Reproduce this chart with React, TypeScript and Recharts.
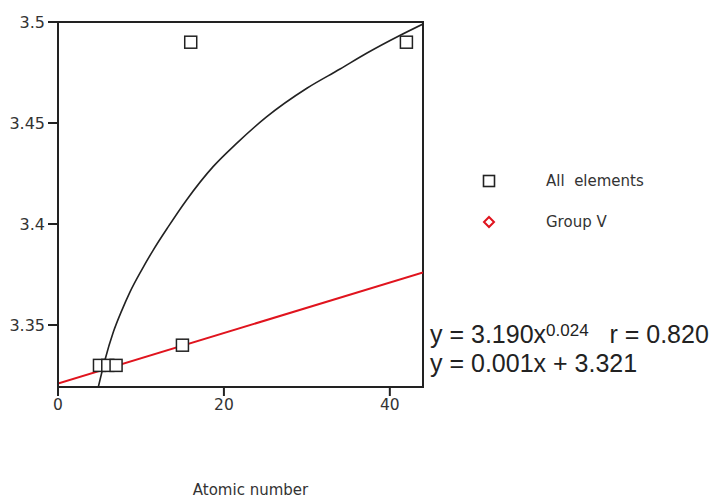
import React from "react";
import {
  ComposedChart,
  Line,
  Scatter,
  XAxis,
  YAxis,
  ReferenceArea,
} from "recharts";

// values
const X_TICKS = [0, 20, 40];
const Y_TICKS = [3.35, 3.4, 3.45, 3.5];
const Y_MIN = 3.3193;
const Y_MAX = 3.5;
const X_MAX = 44;

const allElementsX = [5, 6, 7, 15, 16, 42];
const allElementsY = [3.33, 3.33, 3.33, 3.34, 3.49, 3.49];

const groupVX = [7, 15];
const groupVY = [3.33, 3.34];

// power fit curve (black)
const powerFitX = [4.86, 5.66, 6.67, 7.67, 8.67, 10.08, 11.48, 13.3, 15.5, 18.7, 21.5, 25.1, 30.0, 34.0, 37.2, 41.2, 44];
const powerFitY = [3.3193, 3.3327, 3.3465, 3.357, 3.3663, 3.3772, 3.3871, 3.3987, 3.4119, 3.4284, 3.4398, 3.4529, 3.4672, 3.4767, 3.4845, 3.4933, 3.499];

// linear fit (red)
const linearFitX = [0, 44];
const linearFitY = [3.321, 3.376];

const zip = (xs: number[], ys: number[]) => xs.map((x, i) => ({ x, y: ys[i] }));

const allElements = zip(allElementsX, allElementsY);
const groupV = zip(groupVX, groupVY);
const powerFit = zip(powerFitX, powerFitY);
const linearFit = zip(linearFitX, linearFitY);

const INK = "#222";
const TEXT = "#333";
const RED = "#e0141e";

const Square = (props: any) => {
  const { cx, cy } = props;
  return <rect x={cx - 6} y={cy - 6} width={12} height={12} fill="#fff" stroke={INK} strokeWidth={1.5} />;
};

const Diamond = (props: any) => {
  const { cx, cy } = props;
  return (
    <polygon
      points={`${cx},${cy - 5} ${cx + 5},${cy} ${cx},${cy + 5} ${cx - 5},${cy}`}
      fill="#fff"
      stroke={RED}
      strokeWidth={2}
    />
  );
};

export default function App() {
  return (
    <div
      style={{
        position: "absolute",
        left: 0,
        top: 0,
        width: 724,
        height: 499,
        background: "#fff",
        fontFamily: "'DejaVu Sans', sans-serif",
      }}
    >
      <ComposedChart
        width={724}
        height={499}
        margin={{ top: 22, right: 301, bottom: 0, left: 0 }}
      >
        <XAxis
          type="number"
          dataKey="x"
          domain={[0, X_MAX]}
          ticks={X_TICKS}
          allowDataOverflow
          height={112}
          tickSize={9}
          tickMargin={3}
          axisLine={{ stroke: INK, strokeWidth: 2 }}
          tickLine={{ stroke: INK, strokeWidth: 2 }}
          tick={{ fill: TEXT, fontSize: 15.5 }}
          label={{
            value: "Atomic number",
            position: "insideBottom",
            offset: 4,
            dx: 10,
            fill: TEXT,
            fontSize: 15,
          }}
        />
        <YAxis
          type="number"
          dataKey="y"
          domain={[Y_MIN, Y_MAX]}
          ticks={Y_TICKS}
          allowDataOverflow
          width={58}
          tickSize={10}
          tickMargin={3}
          axisLine={{ stroke: INK, strokeWidth: 2 }}
          tickLine={{ stroke: INK, strokeWidth: 2 }}
          tick={{ fill: TEXT, fontSize: 16 }}
          tickFormatter={(v: number) => String(v)}
        />
        <ReferenceArea
          x1={0}
          x2={X_MAX}
          y1={Y_MIN}
          y2={Y_MAX}
          fill="none"
          stroke={INK}
          strokeWidth={2}
          ifOverflow="visible"
        />
        <Line
          data={linearFit}
          dataKey="y"
          type="linear"
          stroke={RED}
          strokeWidth={2}
          dot={false}
          isAnimationActive={false}
        />
        <Line
          data={powerFit}
          dataKey="y"
          type="monotone"
          stroke={INK}
          strokeWidth={1.6}
          dot={false}
          isAnimationActive={false}
        />
        <Scatter data={groupV} dataKey="y" shape={<Diamond />} isAnimationActive={false} />
        <Scatter data={allElements} dataKey="y" shape={<Square />} isAnimationActive={false} />
      </ComposedChart>

      {/* legend */}
      <svg style={{ position: "absolute", left: 482, top: 174 }} width={14} height={56}>
        <rect x={1.5} y={1.5} width={11} height={11} fill="#fff" stroke={INK} strokeWidth={1.6} />
        <polygon points="7,43 12,48 7,53 2,48" fill="#fff" stroke={RED} strokeWidth={2} />
      </svg>
      <div style={{ position: "absolute", left: 546, top: 172, fontSize: 15, color: TEXT, whiteSpace: "pre" }}>
        All  elements
      </div>
      <div style={{ position: "absolute", left: 546, top: 213, fontSize: 15, color: TEXT, whiteSpace: "pre" }}>
        Group V
      </div>

      {/* fit equations */}
      <div
        style={{
          position: "absolute",
          left: 430,
          top: 316,
          fontFamily: "'Liberation Sans', Arial, sans-serif",
          fontSize: 25,
          lineHeight: "29px",
          color: INK,
          whiteSpace: "pre",
        }}
      >
        <div>
          y = 3.190x<sup style={{ fontSize: 17, verticalAlign: 7 }}>0.024</sup>{"   r = 0.820"}
        </div>
        <div>y = 0.001x + 3.321</div>
      </div>
    </div>
  );
}
